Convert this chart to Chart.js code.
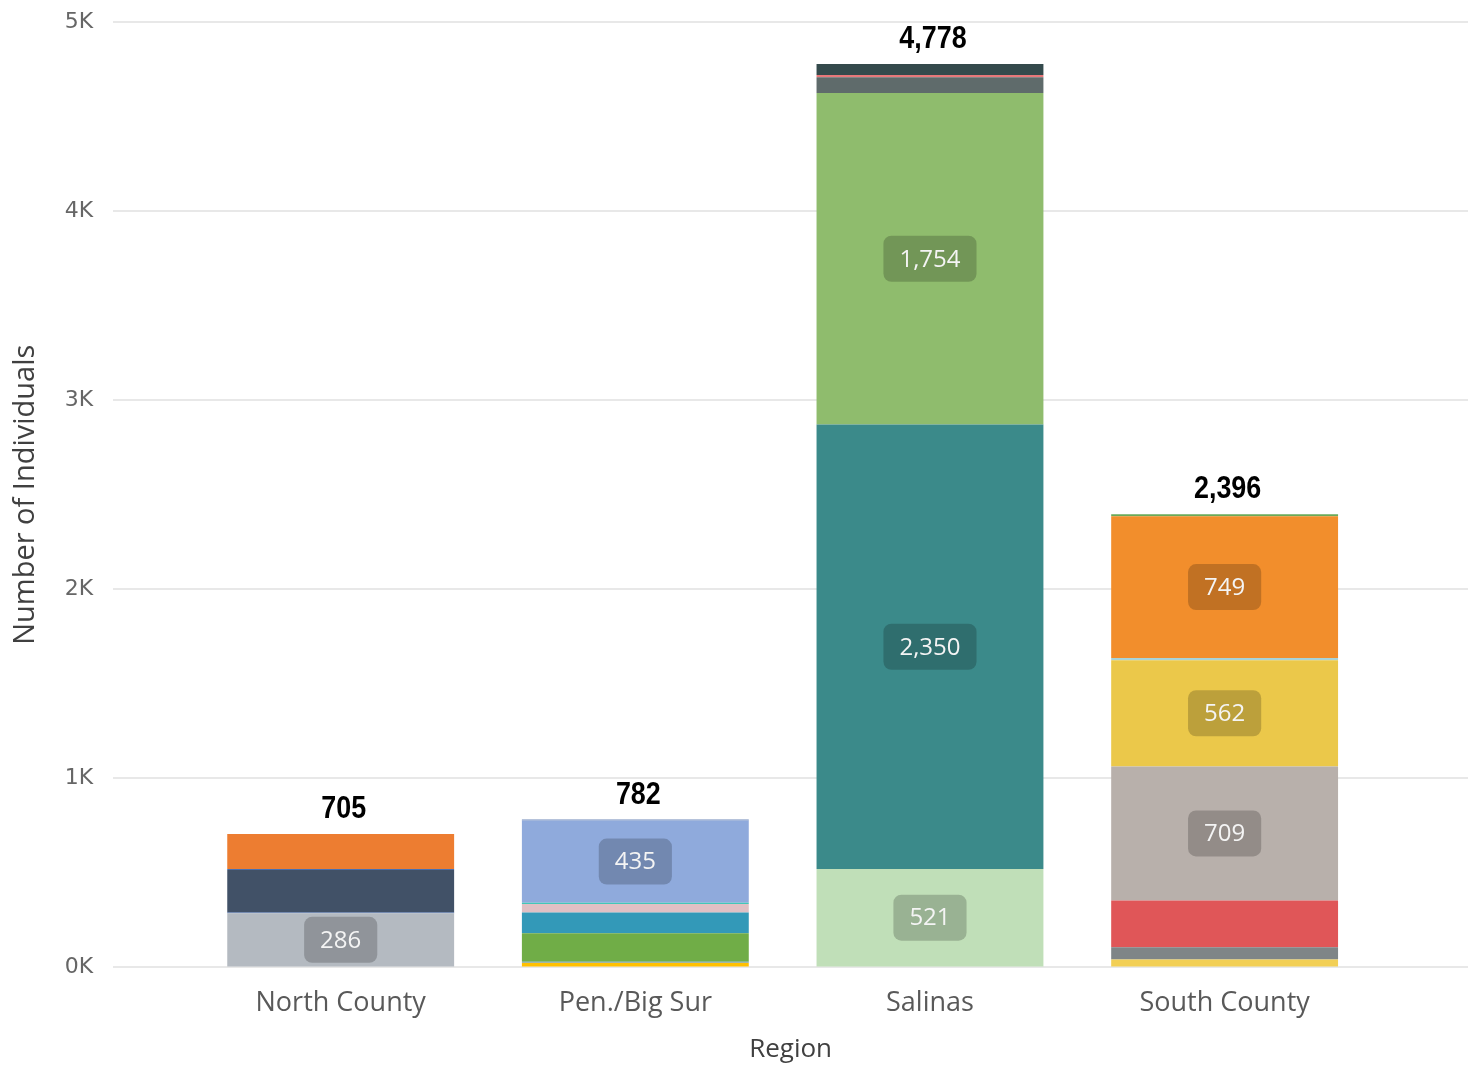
<!DOCTYPE html>
<html>
<head>
<meta charset="utf-8">
<script src="https://cdn.jsdelivr.net/npm/chart.js@4/dist/chart.umd.min.js"></script>
<style>
  html, body { margin: 0; padding: 0; background: #fff; }
  #wrap { width: 1476px; height: 1067px; position: relative; }
</style>
</head>
<body>
<div id="wrap"><canvas id="regionChart"></canvas></div>
<script>
// ===== REGION STACKED BAR =====

const regions = ['North County', 'Pen./Big Sur', 'Salinas', 'South County'];
const yTicks = [0, 1000, 2000, 3000, 4000, 5000];

// segment values per region, bottom to top
const northCounty = [286, 5, 224, 5, 185];
const penBigSur = [24, 6, 150, 110, 45, 7, 435, 5];
const salinas = [521, 2350, 1754, 83, 12, 58];
const southCounty = [42, 64, 248, 709, 562, 12, 749, 10];

// segment colours, same order
const northColors = ['#b4bac1', '#4a6fb0', '#415167', '#4a6fb0', '#ed7d31'];
const penColors = ['#ffc000', '#5b9bd5', '#70ad47', '#3399b8', '#e0c0c4', '#40c8b8', '#8faadc', '#6f87b8'];
const salinasColors = ['#c0dfb8', '#3b8a8a', '#8fbc6d', '#5f6b6b', '#e8787a', '#344a4c'];
const southColors = ['#f2cf55', '#7f8587', '#e05658', '#b8b0ab', '#ebc84a', '#a8d3d8', '#f28e2c', '#6aaa58'];

const regionValues = [northCounty, penBigSur, salinas, southCounty];
const regionColors = [northColors, penColors, salinasColors, southColors];

const datasets = [];
regionValues.forEach((vals, r) => {
  vals.forEach((v, j) => {
    datasets.push({
      data: [{ x: r, y: v }],
      backgroundColor: regionColors[r][j],
      borderWidth: 0,
      barPercentage: 0.77,
      categoryPercentage: 1
    });
  });
});

const fmt = n => n.toLocaleString('en-US');

// value boxes inside the big segments + totals on top
const labelPlugin = {
  id: 'labels',
  afterDatasetsDraw(chart) {
    const ctx = chart.ctx;
    ctx.save();
    ctx.textAlign = 'center';
    chart.data.datasets.forEach((ds, i) => {
      const v = ds.data[0].y;
      if (v < 280) return;
      const bar = chart.getDatasetMeta(i).data[0];
      const cy = (bar.y + bar.base) / 2;
      ctx.font = '24px "Open Sans"';
      const w = ctx.measureText(fmt(v)).width + 32;
      const h = 46;
      ctx.fillStyle = 'rgba(0,0,0,0.2)';
      ctx.beginPath();
      ctx.roundRect(bar.x - w / 2, cy - h / 2, w, h, 8);
      ctx.fill();
      ctx.fillStyle = '#f4f4f4';
      ctx.textBaseline = 'middle';
      ctx.fillText(fmt(v), bar.x, cy + 1);
    });
    const xs = chart.scales.x, ys = chart.scales.y;
    ctx.fillStyle = '#000';
    ctx.textBaseline = 'alphabetic';
    ctx.font = 'bold 32px "Liberation Sans"';
    regionValues.forEach((vals, r) => {
      const total = vals.reduce((a, b) => a + b, 0);
      ctx.save();
      ctx.translate(xs.getPixelForValue(r) + 3, ys.getPixelForValue(total) - 16);
      ctx.scale(0.84, 1); // narrow look of the original
      ctx.fillText(fmt(total), 0, 0);
      ctx.restore();
    });
    ctx.restore();
  }
};

new Chart(document.getElementById('regionChart'), {
  type: 'bar',
  data: { datasets },
  plugins: [labelPlugin],
  options: {
    responsive: true,
    maintainAspectRatio: false,
    animation: false,
    layout: { padding: { top: 22, right: 8, left: 8, bottom: 0 } },
    plugins: {
      legend: { display: false },
      tooltip: { enabled: false }
    },
    scales: {
      x: {
        type: 'linear',
        stacked: true,
        offset: false,
        min: -0.772,
        max: 3.826,
        grid: { display: false },
        border: { display: false },
        ticks: {
          stepSize: 1,
          includeBounds: false,
          autoSkip: false,
          maxRotation: 0,
          padding: 12,
          color: '#595959',
          font: { family: 'Open Sans', size: 27 },
          callback: v => regions[v] ?? ''
        },
        title: {
          display: true, text: 'Region', color: '#404040',
          font: { family: 'Open Sans', size: 26 }, padding: { top: 2, bottom: 2 }
        }
      },
      y: {
        stacked: true,
        min: 0, max: 5000,
        afterBuildTicks: s => { s.ticks = yTicks.map(v => ({ value: v })); },
        afterFit: s => { s.paddingTop = 0; s.paddingBottom = 0; },
        grid: { color: '#e8e8e8', lineWidth: 2, drawTicks: false },
        border: { display: false },
        ticks: {
          padding: 20,
          color: '#666',
          font: { family: 'DejaVu Sans', size: 22 },
          callback: v => (v / 1000) + 'K'
        },
        title: {
          display: true, text: 'Number of Individuals', color: '#404040',
          font: { family: 'Open Sans', size: 29 }, padding: { top: 0, bottom: 2 }
        }
      }
    }
  }
});
</script>
</body>
</html>
